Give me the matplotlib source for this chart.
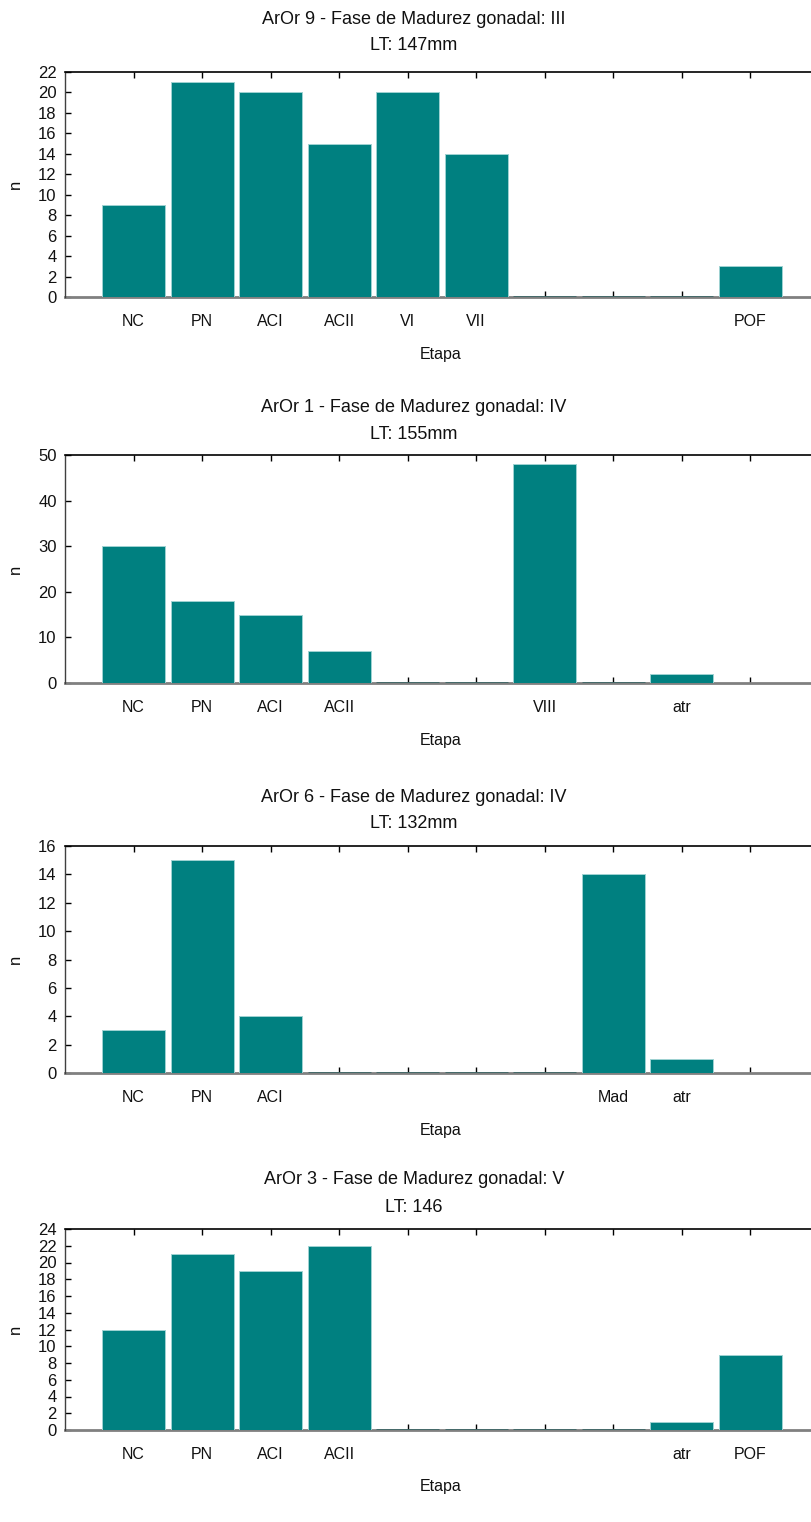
import matplotlib
matplotlib.use("Agg")
import matplotlib.pyplot as plt

plt.rcParams['font.family'] = ['Liberation Sans', 'DejaVu Sans']

positions = [1, 2, 3, 4, 5, 6, 7, 8, 9, 10]

titles1 = ["ArOr 9 - Fase de Madurez gonadal: III",
           "ArOr 1 - Fase de Madurez gonadal: IV",
           "ArOr 6 - Fase de Madurez gonadal: IV",
           "ArOr 3 - Fase de Madurez gonadal: V"]
titles2 = ["LT: 147mm", "LT: 155mm", "LT: 132mm", "LT: 146"]

labels_1 = ["NC", "PN", "ACI", "ACII", "VI", "VII", "", "", "", "POF"]
values_1 = [9, 21, 20, 15, 20, 14, 0, 0, 0, 3]

labels_2 = ["NC", "PN", "ACI", "ACII", "", "", "VIII", "", "atr", ""]
values_2 = [30, 18, 15, 7, 0, 0, 48, 0, 2, None]

labels_3 = ["NC", "PN", "ACI", "", "", "", "", "Mad", "atr", ""]
values_3 = [3, 15, 4, 0, 0, 0, 0, 14, 1, None]

labels_4 = ["NC", "PN", "ACI", "ACII", "", "", "", "", "atr", "POF"]
values_4 = [12, 21, 19, 22, 0, 0, 0, 0, 1, 9]

ymax = [22, 50, 16, 24]
ystep = [2, 10, 2, 2]

W, H = 812, 1522
fig = plt.figure(figsize=(W / 100, H / 100), dpi=100)

# pixel boxes (top, bottom) for each panel
boxes = [(72, 297), (455, 683), (846, 1073), (1229, 1430)]
title_y = [(19, 46), (407, 434), (797, 824), (1180, 1207)]
etapa_y = [354, 740, 1130, 1486]

left_px = 65
right_px = 812
xmax = 10.9

teal = "#008080"
edge_light = "#9ed2d2"
edge_dark = "#2f5f5f"

all_labels = [labels_1, labels_2, labels_3, labels_4]
all_values = [values_1, values_2, values_3, values_4]

for i in range(4):
    top, bot = boxes[i]
    ax = fig.add_axes([left_px / W, 1 - bot / H, (right_px - left_px) / W, (bot - top) / H])
    vals = all_values[i]
    xs = [p for p, v in zip(positions, vals) if v is not None]
    vs = [v for v in vals if v is not None]
    nz_x = [p for p, v in zip(xs, vs) if v > 0]
    nz_v = [v for v in vs if v > 0]
    z_x = [p for p, v in zip(xs, vs) if v == 0]
    z_v = [v for v in vs if v == 0]
    ax.bar(nz_x, nz_v, width=0.92, color=teal, edgecolor=edge_light, linewidth=0.7, zorder=3)
    if z_x:
        ax.bar(z_x, z_v, width=0.92, color=teal, edgecolor=edge_dark, linewidth=1.8, zorder=3)
    ax.set_xlim(0, xmax)
    ax.set_ylim(0, ymax[i])
    ax.set_yticks(list(range(0, ymax[i] + 1, ystep[i])))
    ax.set_xticks(positions)
    ax.set_xticklabels(all_labels[i])
    ax.tick_params(axis='x', direction='in', top=True, bottom=True, length=4, width=1,
                   labelsize=11.5, pad=12, colors='black')
    ax.tick_params(axis='y', direction='in', left=True, right=False, length=4, width=1,
                   labelsize=12, pad=6)
    for lab in ax.get_xticklabels() + ax.get_yticklabels():
        lab.set_color('#111111')
    ax.spines['right'].set_visible(False)
    ax.spines['top'].set_color('black')
    ax.spines['top'].set_linewidth(1.2)
    ax.spines['left'].set_color('#404040')
    ax.spines['left'].set_linewidth(1.0)
    ax.spines['bottom'].set_color('#808080')
    ax.spines['bottom'].set_linewidth(2.0)
    ax.spines['bottom'].set_zorder(2)

    fig.text(414 / W, 1 - title_y[i][0] / H, titles1[i], ha='center', va='center', fontsize=13, color='#111111')
    fig.text(414 / W, 1 - title_y[i][1] / H, titles2[i], ha='center', va='center', fontsize=13, color='#111111')
    fig.text(441 / W, 1 - etapa_y[i] / H, "Etapa", ha='center', va='center', fontsize=11.5, color='#111111')
    fig.text(15 / W, 1 - (top + bot) / 2 / H, "n", ha='center', va='center', rotation=90, fontsize=12, color='#111111')

fig.savefig("out.png", dpi=100)
